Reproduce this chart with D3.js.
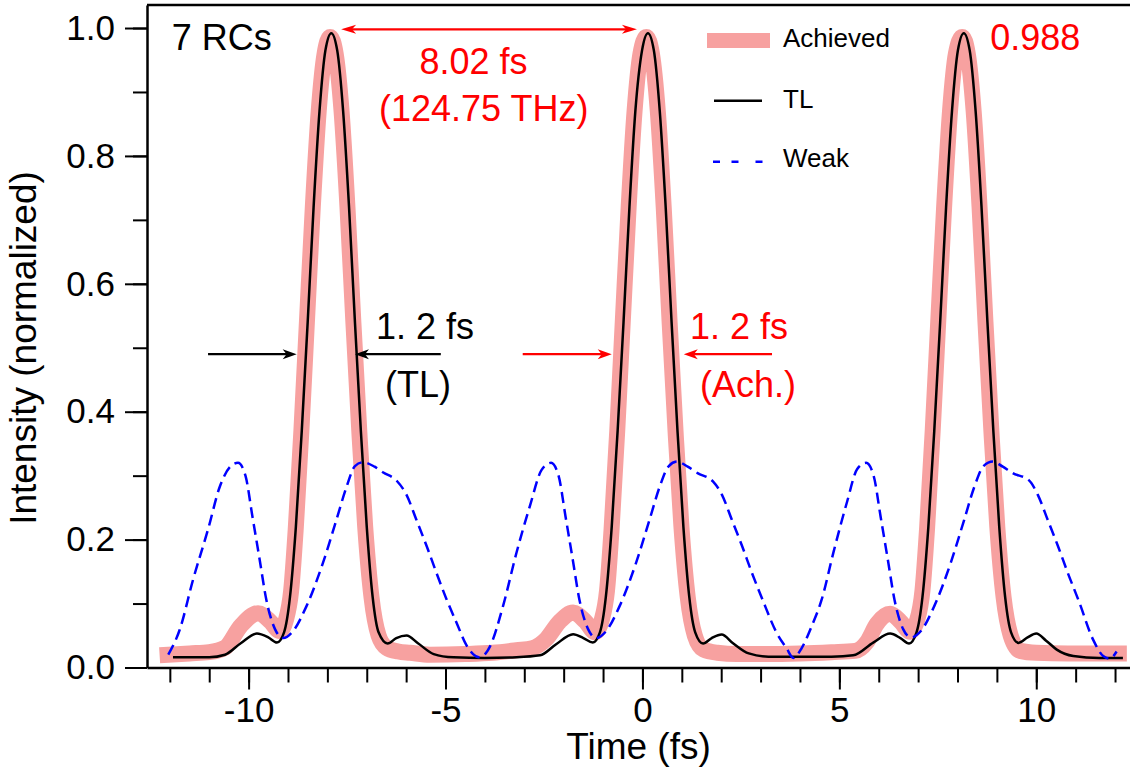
<!DOCTYPE html>
<html>
<head>
<meta charset="utf-8">
<script src="https://cdn.jsdelivr.net/npm/d3@7"></script>
<style>
body { margin: 0; background: #fff; }
svg { display: block; font-family: "Liberation Sans", Arial, sans-serif; }
</style>
</head>
<body>
<svg width="1130" height="774"></svg>
<script>
// values: [time (fs), intensity]
var achieved = [
  [-12.26, 0.019], [-11.5, 0.022], [-11.0, 0.024], [-10.6, 0.031], [-10.2, 0.065], [-9.76, 0.085], [-9.45, 0.072], [-9.21, 0.057],
  [-9.05, 0.075], [-8.92, 0.12], [-8.8, 0.22], [-8.66, 0.37], [-8.52, 0.54], [-8.37, 0.72], [-8.22, 0.87], [-8.07, 0.96], [-7.93, 0.986],
  [-7.79, 0.96], [-7.64, 0.87], [-7.49, 0.72], [-7.34, 0.54], [-7.19, 0.37], [-7.04, 0.22], [-6.88, 0.11], [-6.7, 0.05], [-6.5, 0.031],
  [-6.2, 0.025], [-5.9, 0.023], [-5.4, 0.02], [-4.5, 0.021], [-3.8, 0.023], [-3.2, 0.027], [-2.8, 0.03], [-2.45, 0.044], [-2.1, 0.072],
  [-1.76, 0.086], [-1.45, 0.072], [-1.2, 0.055],
  [-1.03, 0.075], [-0.9, 0.12], [-0.78, 0.22], [-0.64, 0.37], [-0.5, 0.54], [-0.35, 0.72], [-0.2, 0.87], [-0.05, 0.96], [0.1, 0.986],
  [0.24, 0.96], [0.39, 0.87], [0.54, 0.72], [0.69, 0.54], [0.84, 0.37], [0.99, 0.22], [1.15, 0.11], [1.33, 0.05], [1.55, 0.028],
  [1.9, 0.023], [2.4, 0.021], [3.2, 0.021], [4.0, 0.022], [4.8, 0.024], [5.4, 0.026], [5.7, 0.04], [5.95, 0.068], [6.29, 0.084],
  [6.55, 0.072], [6.8, 0.056],
  [6.98, 0.075], [7.11, 0.12], [7.23, 0.22], [7.37, 0.37], [7.51, 0.54], [7.66, 0.72], [7.81, 0.87], [7.96, 0.96], [8.12, 0.986],
  [8.26, 0.96], [8.41, 0.87], [8.56, 0.72], [8.71, 0.54], [8.86, 0.37], [9.01, 0.22], [9.17, 0.11], [9.35, 0.05], [9.59, 0.026],
  [10.0, 0.023], [10.8, 0.022], [11.6, 0.022], [12.3, 0.022]
]

var tl = [
  [-11.92, 0.016], [-11.0, 0.016], [-10.6, 0.02], [-10.2, 0.038], [-9.79, 0.053], [-9.5, 0.047], [-9.28, 0.039],
  [-9.1, 0.055], [-8.95, 0.11], [-8.8, 0.22], [-8.65, 0.37], [-8.5, 0.54], [-8.35, 0.72], [-8.2, 0.87], [-8.05, 0.965], [-7.9, 0.992],
  [-7.75, 0.965], [-7.6, 0.87], [-7.45, 0.72], [-7.3, 0.54], [-7.15, 0.37], [-7.0, 0.22], [-6.85, 0.11], [-6.7, 0.055], [-6.47, 0.0375],
  [-6.25, 0.046], [-5.99, 0.05], [-5.7, 0.038], [-5.3, 0.021], [-4.8, 0.016], [-4.0, 0.015], [-3.2, 0.016], [-2.6, 0.019], [-2.2, 0.036],
  [-1.76, 0.052], [-1.5, 0.046], [-1.26, 0.039],
  [-1.08, 0.055], [-0.93, 0.11], [-0.78, 0.22], [-0.63, 0.37], [-0.48, 0.54], [-0.33, 0.72], [-0.18, 0.87], [-0.01, 0.965], [0.14, 0.992],
  [0.29, 0.965], [0.44, 0.87], [0.59, 0.72], [0.74, 0.54], [0.89, 0.37], [1.04, 0.22], [1.19, 0.11], [1.34, 0.055], [1.54, 0.0375],
  [1.76, 0.046], [2.01, 0.0516], [2.3, 0.038], [2.7, 0.022], [3.2, 0.017], [4.0, 0.0167], [4.8, 0.017], [5.35, 0.019], [5.86, 0.039],
  [6.29, 0.053], [6.55, 0.046], [6.77, 0.0375],
  [6.96, 0.055], [7.11, 0.11], [7.26, 0.22], [7.41, 0.37], [7.56, 0.54], [7.71, 0.72], [7.86, 0.87], [8.01, 0.965], [8.16, 0.992],
  [8.31, 0.965], [8.46, 0.87], [8.61, 0.72], [8.76, 0.54], [8.91, 0.37], [9.06, 0.22], [9.21, 0.11], [9.36, 0.055], [9.55, 0.0385],
  [9.78, 0.047], [10.0, 0.053], [10.25, 0.042], [10.52, 0.028], [10.94, 0.018], [11.6, 0.015], [12.2, 0.015]
]

var weak = [
  [-12.04, 0.02], [-11.75, 0.059], [-11.41, 0.1375], [-11.03, 0.216], [-10.73, 0.283], [-10.45, 0.315], [-10.27, 0.32],
  [-10.08, 0.3], [-9.9, 0.235], [-9.72, 0.169], [-9.55, 0.106], [-9.33, 0.06], [-9.12, 0.046], [-8.87, 0.057], [-8.53, 0.096],
  [-8.11, 0.164], [-7.77, 0.231], [-7.51, 0.283], [-7.3, 0.315], [-7.09, 0.321], [-6.8, 0.314], [-6.58, 0.305], [-6.24, 0.292],
  [-5.99, 0.27], [-5.74, 0.231], [-5.48, 0.19], [-5.23, 0.148], [-4.97, 0.106], [-4.72, 0.07], [-4.47, 0.035], [-4.3, 0.021],
  [-4.15, 0.016], [-3.98, 0.022], [-3.87, 0.033], [-3.54, 0.096], [-3.2, 0.179], [-2.86, 0.252], [-2.56, 0.309], [-2.32, 0.32],
  [-2.13, 0.3], [-1.95, 0.235], [-1.77, 0.169], [-1.6, 0.106], [-1.38, 0.06], [-1.17, 0.046], [-0.92, 0.057], [-0.58, 0.096],
  [-0.16, 0.164], [0.18, 0.231], [0.44, 0.283], [0.67, 0.315], [0.88, 0.322], [1.15, 0.314], [1.4, 0.304], [1.79, 0.291],
  [2.02, 0.27], [2.27, 0.231], [2.53, 0.19], [2.78, 0.148], [3.05, 0.106], [3.41, 0.054], [3.66, 0.03], [3.83, 0.015],
  [4.04, 0.03], [4.3, 0.065], [4.55, 0.106], [4.85, 0.18], [5.2, 0.26], [5.45, 0.31], [5.68, 0.32],
  [5.87, 0.3], [6.05, 0.235], [6.23, 0.169], [6.4, 0.106], [6.62, 0.06], [6.82, 0.047], [7.07, 0.057], [7.41, 0.096],
  [7.83, 0.164], [8.17, 0.231], [8.43, 0.283], [8.66, 0.315], [8.9, 0.322], [9.15, 0.314], [9.4, 0.304], [9.81, 0.293],
  [10.04, 0.27], [10.29, 0.231], [10.55, 0.19], [10.8, 0.148], [11.08, 0.104], [11.44, 0.044], [11.7, 0.018], [11.87, 0.014],
  [12.04, 0.025]
]

var xTicks = [-10, -5, 0, 5, 10]
var xMinor = d3.range(-12, 13)
var yTicks = [0, 0.2, 0.4, 0.6, 0.8, 1.0]
var yMinor = d3.range(0, 11).map(function (i) { return i / 10 })

var pink = 'rgb(247,161,160)'
var red = '#ff0000'

var svg = d3.select('svg')

var x = d3.scaleLinear().domain([-12.58, 12.38]).range([147, 1130])
var y = d3.scaleLinear().domain([0, 1.036]).range([667.5, 5])

var line = d3.line()
  .x(function (d) { return x(d[0]) })
  .y(function (d) { return y(d[1]) })
  .curve(d3.curveMonotoneX)

// curves
svg.append('path').datum(achieved)
  .attr('d', line).attr('fill', 'none')
  .attr('stroke', pink).attr('stroke-width', 16)
  .attr('stroke-linejoin', 'round')

svg.append('path').datum(tl)
  .attr('d', line).attr('fill', 'none')
  .attr('stroke', '#000').attr('stroke-width', 2.5)

svg.append('path').datum(weak)
  .attr('d', line).attr('fill', 'none')
  .attr('stroke', '#0000ff').attr('stroke-width', 2.5)
  .attr('stroke-dasharray', '11,6')

// axes
function styleAxis(g) {
  g.selectAll('.domain').attr('stroke-width', 2.5)
  g.selectAll('.tick line').attr('stroke-width', 2)
  g.selectAll('.tick text').attr('font-size', 35).attr('fill', '#000')
    .attr('font-family', '"Liberation Sans", Arial, sans-serif')
}

svg.append('g')
  .attr('transform', 'translate(0,' + y(0) + ')')
  .call(d3.axisBottom(x).tickValues(xMinor).tickSize(15).tickSizeOuter(0).tickFormat(''))
  .call(styleAxis)

svg.append('g')
  .attr('transform', 'translate(0,' + y(0) + ')')
  .call(d3.axisBottom(x).tickValues(xTicks).tickSize(22).tickSizeOuter(0).tickPadding(8)
    .tickFormat(function (d) { return String(d) }))
  .call(styleAxis)
  .call(function (g) { g.select('.domain').remove() })

svg.append('g')
  .attr('transform', 'translate(' + x.range()[0] + ',0)')
  .call(d3.axisLeft(y).tickValues(yMinor).tickSize(14).tickSizeOuter(0).tickFormat(''))
  .call(styleAxis)

svg.append('g')
  .attr('transform', 'translate(' + x.range()[0] + ',0)')
  .call(d3.axisLeft(y).tickValues(yTicks).tickSize(22).tickSizeOuter(0).tickPadding(10)
    .tickFormat(d3.format('.1f')))
  .call(styleAxis)
  .call(function (g) { g.select('.domain').remove() })

// top frame line
svg.append('line')
  .attr('x1', x.range()[0]).attr('x2', x.range()[1])
  .attr('y1', y.range()[1]).attr('y2', y.range()[1])
  .attr('stroke', '#000').attr('stroke-width', 2.5)

svg.append('text')
  .attr('x', (x(-12.58) + x(12.38)) / 2).attr('y', 759)
  .attr('text-anchor', 'middle').attr('font-size', 37)
  .text('Time (fs)')

svg.append('text')
  .attr('transform', 'translate(36,348) rotate(-90)')
  .attr('text-anchor', 'middle').attr('font-size', 37)
  .text('Intensity (normalized)')

// arrows
function arrowHead(tx, ty, dir, color, len, half) {
  svg.append('path')
    .attr('d', 'M' + tx + ',' + ty +
      'L' + (tx - dir * len) + ',' + (ty - half) +
      'L' + (tx - dir * len * 0.72) + ',' + ty +
      'L' + (tx - dir * len) + ',' + (ty + half) + 'Z')
    .attr('fill', color)
}

function arrow(from, to, yv, color) {
  var dir = to > from ? 1 : -1
  var tx = x(to), ty = y(yv)
  svg.append('line')
    .attr('x1', x(from)).attr('x2', tx - dir * 9)
    .attr('y1', ty).attr('y2', ty)
    .attr('stroke', color).attr('stroke-width', 2.2)
  arrowHead(tx, ty, dir, color, 14, 5)
}

// period arrow (double headed)
var periodArrow = { x1: -7.65, x2: -0.14, y: 0.998 }
svg.append('line')
  .attr('x1', x(periodArrow.x1) + 9).attr('x2', x(periodArrow.x2) - 9)
  .attr('y1', y(periodArrow.y)).attr('y2', y(periodArrow.y))
  .attr('stroke', red).attr('stroke-width', 2.2)
arrowHead(x(periodArrow.x1), y(periodArrow.y), -1, red, 15, 4.5)
arrowHead(x(periodArrow.x2), y(periodArrow.y), 1, red, 15, 4.5)

var fwhmY = 0.49
arrow(-11.03, -8.78, fwhmY, '#000')
arrow(-5.12, -7.3, fwhmY, '#000')
arrow(-3.04, -0.78, fwhmY, red)
arrow(3.29, 1.05, fwhmY, red)

// annotation texts [text, x, y, anchor, colour]
var notes = [
  ['7 RCs', -11.95, 0.9656, 'start', '#000'],
  ['8.02 fs', -4.29, 0.928, 'middle', red],
  ['(124.75 THz)', -4.03, 0.8546, 'middle', red],
  ['1. 2 fs', -5.52, 0.5137, 'middle', '#000'],
  ['(TL)', -5.70, 0.423, 'middle', '#000'],
  ['1. 2 fs', 2.45, 0.5137, 'middle', red],
  ['(Ach.)', 2.68, 0.423, 'middle', red],
  ['0.988', 8.83, 0.9656, 'start', red]
]
svg.selectAll('.note').data(notes).enter().append('text')
  .attr('class', 'note')
  .attr('x', function (d) { return x(d[1]) })
  .attr('y', function (d) { return y(d[2]) })
  .attr('text-anchor', function (d) { return d[3] })
  .attr('fill', function (d) { return d[4] })
  .attr('font-size', 36)
  .text(function (d) { return d[0] })

// legend
var legend = svg.append('g')
legend.append('line').attr('x1', 707).attr('x2', 770).attr('y1', 40.5).attr('y2', 40.5)
  .attr('stroke', pink).attr('stroke-width', 15)
legend.append('line').attr('x1', 714).attr('x2', 762).attr('y1', 100.7).attr('y2', 100.7)
  .attr('stroke', '#000').attr('stroke-width', 2.5)
legend.append('line').attr('x1', 713).attr('x2', 763).attr('y1', 161.7).attr('y2', 161.7)
  .attr('stroke', '#0000ff').attr('stroke-width', 2.5).attr('stroke-dasharray', '7,11.5,7,17')
var legendLabels = ['Achieved', 'TL', 'Weak']
legend.selectAll('text').data(legendLabels).enter().append('text')
  .attr('x', 783)
  .attr('y', function (d, i) { return [47, 108, 167][i] })
  .attr('font-size', 26)
  .text(function (d) { return d })
</script>
</body>
</html>
